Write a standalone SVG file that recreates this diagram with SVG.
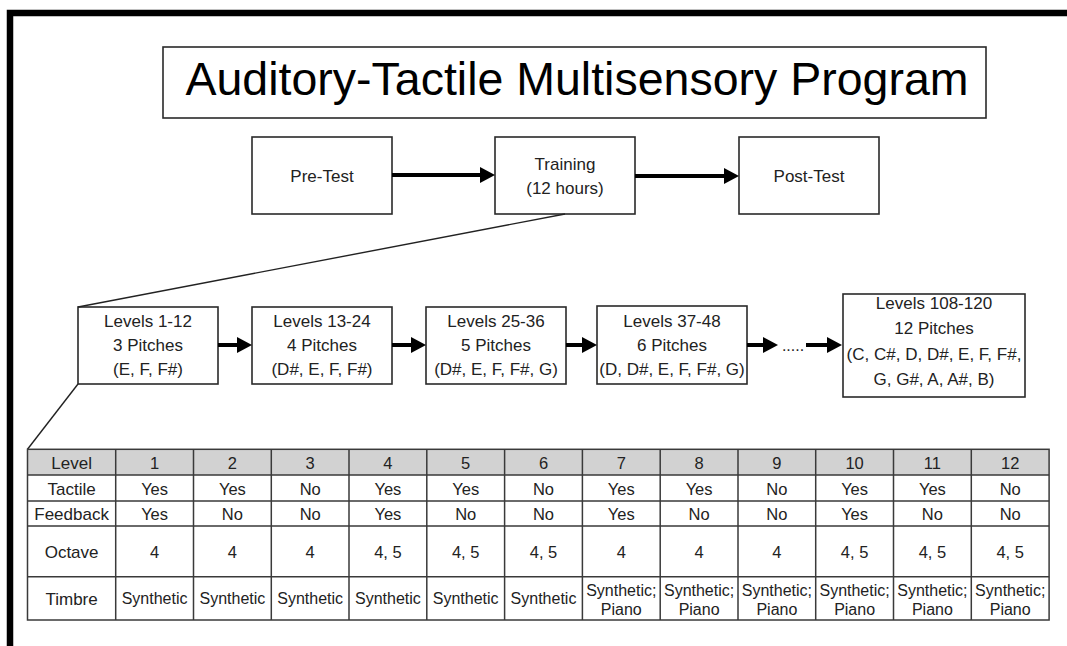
<svg xmlns="http://www.w3.org/2000/svg" width="1067" height="646" viewBox="0 0 1067 646">
<style>
text{font-family:"Liberation Sans",Arial,sans-serif;fill:#222;text-anchor:middle}
.box{fill:#fff;stroke:#2a2a2a;stroke-width:1.6}
.t17{font-size:17px}
.title{font-size:46.5px;fill:#000}
.arrow{stroke:#000;stroke-width:4;fill:none}
.thin{stroke:#222;stroke-width:1.4;fill:none}
.grid{stroke:#3a3a3a;stroke-width:1.5;fill:none}
.tl{font-size:17px}
.tv{font-size:16.5px}
.ts{font-size:16px}
</style>
<defs>
<marker id="ah" markerUnits="userSpaceOnUse" markerWidth="16" markerHeight="16" refX="3" refY="8" orient="auto">
<path d="M0,0 L15,8 L0,16 z" fill="#000"/>
</marker>
</defs>
<rect x="0" y="0" width="1067" height="646" fill="#fff"/>
<path d="M10,700 V13 H1100" fill="none" stroke="#000" stroke-width="6.5"/>

<g id="title">
<rect class="box" x="163" y="47" width="823" height="71"/>
<text class="title" x="577" y="95">Auditory-Tactile Multisensory Program</text>
</g>

<g id="pretest">
<rect class="box" x="252" y="137" width="140" height="77"/>
<text class="t17" x="322" y="182">Pre-Test</text>
</g>
<g id="training">
<rect class="box" x="495" y="137" width="140" height="77"/>
<text class="t17" x="565" y="170">Training</text>
<text class="t17" x="565" y="194">(12 hours)</text>
</g>
<g id="posttest">
<rect class="box" x="739" y="137" width="140" height="77"/>
<text class="t17" x="809" y="182">Post-Test</text>
</g>

<g id="level1">
<rect class="box" x="78" y="307" width="140" height="77"/>
<text class="t17" x="148" y="327">Levels 1-12</text>
<text class="t17" x="148" y="351">3 Pitches</text>
<text class="t17" x="148" y="375">(E, F, F#)</text>
</g>
<g id="level2">
<rect class="box" x="252" y="307" width="140" height="77"/>
<text class="t17" x="322" y="327">Levels 13-24</text>
<text class="t17" x="322" y="351">4 Pitches</text>
<text class="t17" x="322" y="375">(D#, E, F, F#)</text>
</g>
<g id="level3">
<rect class="box" x="426" y="307" width="140" height="77"/>
<text class="t17" x="496" y="327">Levels 25-36</text>
<text class="t17" x="496" y="351">5 Pitches</text>
<text class="t17" x="496" y="375">(D#, E, F, F#, G)</text>
</g>
<g id="level4">
<rect class="box" x="597" y="306" width="150" height="78"/>
<text class="t17" x="672" y="327">Levels 37-48</text>
<text class="t17" x="672" y="351">6 Pitches</text>
<text class="t17" x="672" y="375">(D, D#, E, F, F#, G)</text>
</g>
<g id="level5">
<rect class="box" x="843" y="294" width="182" height="103"/>
<text class="t17" x="934" y="309">Levels 108-120</text>
<text class="t17" x="934" y="334">12 Pitches</text>
<text class="t17" x="934" y="360">(C, C#, D, D#, E, F, F#,</text>
<text class="t17" x="934" y="385">G, G#, A, A#, B)</text>
</g>

<g id="connectors">
<line class="arrow" x1="392" y1="175" x2="483" y2="175" marker-end="url(#ah)"/>
<line class="arrow" x1="635" y1="176" x2="727" y2="176" marker-end="url(#ah)"/>
<line class="arrow" x1="218" y1="345" x2="240" y2="345" marker-end="url(#ah)"/>
<line class="arrow" x1="392" y1="345" x2="414" y2="345" marker-end="url(#ah)"/>
<line class="arrow" x1="566" y1="345" x2="585" y2="345" marker-end="url(#ah)"/>
<line class="arrow" x1="747" y1="345" x2="766" y2="345" marker-end="url(#ah)"/>
<text x="793" y="351" style="font-size:16px">.....</text>
<line class="arrow" x1="806" y1="345" x2="830" y2="345" marker-end="url(#ah)"/>
<line class="thin" x1="565" y1="214" x2="78" y2="307"/>
<line class="thin" x1="78" y1="384" x2="27.5" y2="449.3"/>
</g>

<g id="table">
<rect x="27.5" y="449.3" width="1021.6" height="25.7" fill="#d2d2d2"/>
<rect class="grid" x="27.5" y="449.3" width="1021.6" height="170.7"/>
<path class="grid" d="M27.5,475H1049.1M27.5,501H1049.1M27.5,526H1049.1M27.5,576.7H1049.1"/>
<path class="grid" d="M115.7,449.3V620M193.5,449.3V620M271.3,449.3V620M349,449.3V620M426.8,449.3V620M504.6,449.3V620M582.4,449.3V620M660.2,449.3V620M738,449.3V620M815.7,449.3V620M893.5,449.3V620M971.3,449.3V620"/>
<g class="tl">
<text x="71.6" y="469">Level</text>
<text x="71.6" y="495">Tactile</text>
<text x="71.6" y="520">Feedback</text>
<text x="71.6" y="558">Octave</text>
<text x="71.6" y="605">Timbre</text>
</g>
<g class="tv">
<text x="154.6" y="469">1</text><text x="232.4" y="469">2</text><text x="310.2" y="469">3</text><text x="387.9" y="469">4</text><text x="465.7" y="469">5</text><text x="543.5" y="469">6</text><text x="621.3" y="469">7</text><text x="699.1" y="469">8</text><text x="776.9" y="469">9</text><text x="854.6" y="469">10</text><text x="932.4" y="469">11</text><text x="1010.2" y="469">12</text>
<text x="154.6" y="495">Yes</text><text x="232.4" y="495">Yes</text><text x="310.2" y="495">No</text><text x="387.9" y="495">Yes</text><text x="465.7" y="495">Yes</text><text x="543.5" y="495">No</text><text x="621.3" y="495">Yes</text><text x="699.1" y="495">Yes</text><text x="776.9" y="495">No</text><text x="854.6" y="495">Yes</text><text x="932.4" y="495">Yes</text><text x="1010.2" y="495">No</text>
<text x="154.6" y="520">Yes</text><text x="232.4" y="520">No</text><text x="310.2" y="520">No</text><text x="387.9" y="520">Yes</text><text x="465.7" y="520">No</text><text x="543.5" y="520">No</text><text x="621.3" y="520">Yes</text><text x="699.1" y="520">No</text><text x="776.9" y="520">No</text><text x="854.6" y="520">Yes</text><text x="932.4" y="520">No</text><text x="1010.2" y="520">No</text>
<text x="154.6" y="558">4</text><text x="232.4" y="558">4</text><text x="310.2" y="558">4</text><text x="387.9" y="558">4, 5</text><text x="465.7" y="558">4, 5</text><text x="543.5" y="558">4, 5</text><text x="621.3" y="558">4</text><text x="699.1" y="558">4</text><text x="776.9" y="558">4</text><text x="854.6" y="558">4, 5</text><text x="932.4" y="558">4, 5</text><text x="1010.2" y="558">4, 5</text>
</g>
<g class="ts">
<text x="154.6" y="604">Synthetic</text><text x="232.4" y="604">Synthetic</text><text x="310.2" y="604">Synthetic</text><text x="387.9" y="604">Synthetic</text><text x="465.7" y="604">Synthetic</text><text x="543.5" y="604">Synthetic</text>
<text x="621.3" y="596">Synthetic;</text><text x="699.1" y="596">Synthetic;</text><text x="776.9" y="596">Synthetic;</text><text x="854.6" y="596">Synthetic;</text><text x="932.4" y="596">Synthetic;</text><text x="1010.2" y="596">Synthetic;</text>
<text x="621.3" y="615">Piano</text><text x="699.1" y="615">Piano</text><text x="776.9" y="615">Piano</text><text x="854.6" y="615">Piano</text><text x="932.4" y="615">Piano</text><text x="1010.2" y="615">Piano</text>
</g>
</g>
</svg>
